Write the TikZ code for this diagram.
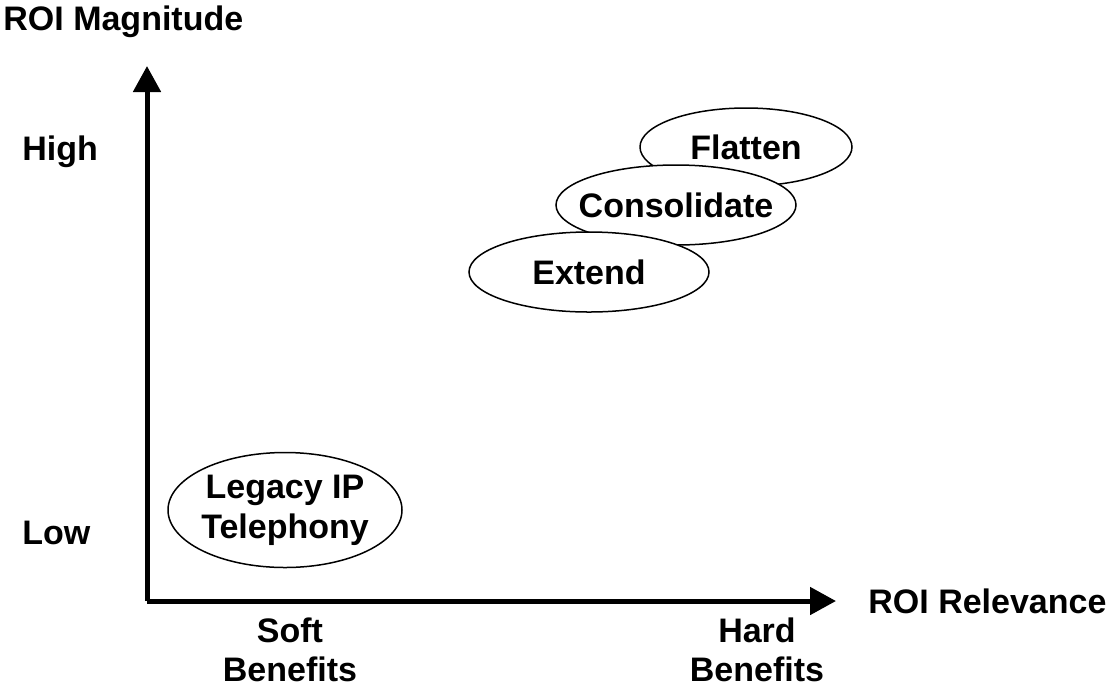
\documentclass[tikz,border=0pt]{standalone}
\usepackage{fontspec}
\setmainfont{Liberation Sans}
\usetikzlibrary{shapes.geometric,arrows.meta}

\begin{document}
\begin{tikzpicture}[x=0.5pt, y=-0.5pt,
        every node/.style={font=\bfseries\fontsize{17}{20}\selectfont},
        axis/.style={line width=2.5pt, -{Triangle[length=13pt, width=13.5pt]}},
        bubble/.style={ellipse, draw, line width=0.75pt, fill=white, inner sep=0pt},
        tag/.style={anchor=west, inner sep=0pt},
        twoline/.style={align=center, inner sep=0pt,
            font=\bfseries\fontsize{17}{19.5}\selectfont}]
        \useasboundingbox (0,0) rectangle (1114,687);

        \coordinate (O) at (147,601);
        \coordinate (Ytop) at (147,66);
        \coordinate (Xend) at (836,601);

        \draw[axis] (O) -- (Ytop);
        \draw[axis] (O) -- (Xend);

        % axis titles
        \node (ytitle) [tag] at (3,22) {ROI Magnitude};
        \node (xtitle) [tag] at (868,601) {ROI Relevance};

        % levels
        \node (high) [tag] at (22,152) {High};
        \node (low) [tag] at (22,533) {Low};
        \node (soft) [twoline] at (290,650) {Soft\\Benefits};
        \node (hard) [twoline] at (757,650) {Hard\\Benefits};

        % bubbles, back to front
        \node (flatten) [bubble, minimum width=106pt, minimum height=39pt] at (746,147) {};
        \node at (flatten) {Flatten};
        \node (consolidate) [bubble, minimum width=120pt, minimum height=40pt] at (676,205) {};
        \node at (consolidate) {Consolidate};
        \node (extend) [bubble, minimum width=120pt, minimum height=40pt] at (589,272) {};
        \node at (extend) {Extend};
        \node (legacy) [bubble, minimum width=117pt, minimum height=57.5pt] at (285,510) {};
        \node [align=center] at (legacy) {Legacy IP\\Telephony};
\end{tikzpicture}
\end{document}
